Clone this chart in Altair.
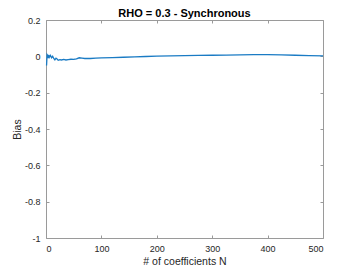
import altair as alt
import pandas as pd

N = [1, 2, 3, 4, 5, 6, 8, 10, 12, 14, 16, 18, 20, 22, 25, 28, 32, 36, 40, 45,
     50, 55, 60, 65, 70, 75, 80, 90, 100, 120, 140, 160, 180, 200, 225, 250,
     275, 300, 325, 350, 375, 400, 425, 450, 475, 500]
bias = [-0.05, 0.01, 0.005, -0.01, 0.008, -0.005, 0.005, -0.008, 0.0, -0.012,
        -0.02, -0.01, -0.015, -0.022, -0.018, -0.02, -0.017, -0.02, -0.018,
        -0.016, -0.017, -0.014, -0.008, -0.01, -0.012, -0.011, -0.012, -0.01,
        -0.009, -0.007, -0.005, -0.003, -0.001, 0.001, 0.003, 0.004, 0.005,
        0.006, 0.007, 0.008, 0.009, 0.009, 0.008, 0.006, 0.004, 0.002]

x_ticks = [0, 100, 200, 300, 400, 500]
y_ticks = [-1, -0.8, -0.6, -0.4, -0.2, 0, 0.2]

df = pd.DataFrame({"N": N, "bias": bias})

FONT = "Liberation Sans"
TXT = "#262626"
AX = "#9a9a9a"
lab = "replace(format(datum.value, '~g'), '\u2212', '-')"

xs = alt.Scale(domain=[0, 500], nice=False)
ys = alt.Scale(domain=[-1, 0.2], nice=False)

main = alt.Chart(df).mark_line(color="#1a7bc4", strokeWidth=1.3).encode(
    x=alt.X("N:Q", scale=xs, axis=alt.Axis(
        values=x_ticks, title="# of coefficients N", offset=-3, tickSize=3,
        domain=False, grid=False, labelPadding=6, titlePadding=3,
        labelExpr=lab)),
    y=alt.Y("bias:Q", scale=ys, axis=alt.Axis(
        values=y_ticks, title="Bias", offset=-3, tickSize=3,
        domain=False, grid=False, labelPadding=6, titlePadding=2,
        labelExpr=lab)),
)

frame = alt.Chart(df).mark_line(opacity=0).encode(
    x=alt.X("N:Q", scale=xs, axis=alt.Axis(
        orient="top", values=x_ticks, title=None, labels=False, offset=-3,
        tickSize=3, domain=False, grid=False)),
    y=alt.Y("bias:Q", scale=ys, axis=alt.Axis(
        orient="right", values=y_ticks, title=None, labels=False, offset=-3,
        tickSize=3, domain=False, grid=False)),
)

chart = alt.layer(main, frame).resolve_axis(
    x="independent", y="independent"
).properties(
    width=277, height=218,
    title=alt.TitleParams("RHO = 0.3 - Synchronous", fontSize=11,
                          fontWeight="bold", font=FONT, color="#000000",
                          offset=-3, frame="group"),
    autosize=alt.AutoSizeParams(type="none"),
    padding={"left": 38, "top": 12, "right": 26, "bottom": 30},
).configure_view(
    stroke=AX, strokeWidth=1
).configure_axis(
    labelFont=FONT, titleFont=FONT, labelFontSize=9, titleFontSize=10.5,
    labelColor=TXT, titleColor=TXT, tickColor=AX, titleFontWeight="normal",
)

chart.save("out.html", embed_options={"renderer": "svg", "actions": False})
